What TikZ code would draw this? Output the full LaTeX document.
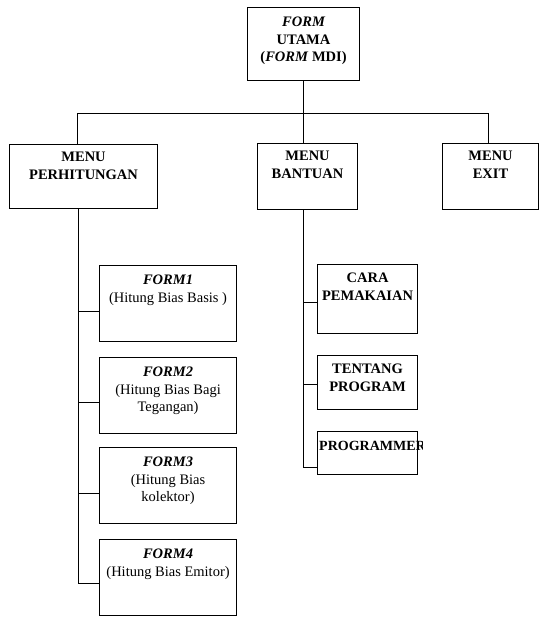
\documentclass[tikz,border=0pt]{standalone}
\usepackage{fontspec}
\setmainfont{Liberation Serif}
\begin{document}
\begin{tikzpicture}[x=1pt,y=-1pt,
  box/.style={draw,line width=1.1pt,anchor=north west,inner sep=0pt},
  lbl/.style={anchor=north,align=center,inner sep=0pt,font=\fontsize{14.5}{17.5}\selectfont},
  conn/.style={line width=0.9pt}]
\useasboundingbox (0,0) rectangle (539,619);
% top
\node[box,minimum width=112pt,minimum height=73pt,
  label={[lbl,yshift=-10pt]north:{\bfseries\itshape FORM\\\bfseries UTAMA\\\bfseries(\textit{FORM} MDI)}}] (top) at (247,7) {};
% menus
\node[box,minimum width=148pt,minimum height=64pt,
  label={[lbl,yshift=-8pt]north:{\bfseries MENU\\\bfseries PERHITUNGAN}}] (perh) at (9,144) {};
\node[box,minimum width=100pt,minimum height=66pt,
  label={[lbl,yshift=-8pt]north:{\bfseries MENU\\\bfseries BANTUAN}}] (bant) at (257,143) {};
\node[box,minimum width=96pt,minimum height=66pt,
  label={[lbl,yshift=-8pt]north:{\bfseries MENU\\\bfseries EXIT}}] (exit) at (442,143) {};
% forms
\node[box,minimum width=137pt,minimum height=76pt,
  label={[lbl,yshift=-10pt]north:{\bfseries\itshape FORM1\\(Hitung Bias Basis )}}] (f1) at (99,265) {};
\node[box,minimum width=137pt,minimum height=76pt,
  label={[lbl,yshift=-10pt]north:{\bfseries\itshape FORM2\\(Hitung Bias Bagi\\Tegangan)}}] (f2) at (99,357) {};
\node[box,minimum width=137pt,minimum height=76pt,
  label={[lbl,yshift=-10pt]north:{\bfseries\itshape FORM3\\(Hitung Bias\\kolektor)}}] (f3) at (99,447) {};
\node[box,minimum width=137pt,minimum height=76pt,
  label={[lbl,yshift=-10pt]north:{\bfseries\itshape FORM4\\(Hitung Bias Emitor)}}] (f4) at (99,539) {};
% bantuan children
\node[box,minimum width=100pt,minimum height=69pt,
  label={[lbl,yshift=-9pt]north:{\bfseries CARA\\\bfseries PEMAKAIAN}}] (cara) at (317,264) {};
\node[box,minimum width=100pt,minimum height=54pt,
  label={[lbl,yshift=-9pt]north:{\bfseries TENTANG\\\bfseries PROGRAM}}] (tent) at (317,355) {};
\node[box,minimum width=100pt,minimum height=43pt] (prog) at (317,431) {};
\begin{scope}
\clip ([xshift=-1pt]prog.south west) rectangle ([xshift=4pt]prog.north east);
\node[lbl,anchor=north west,xshift=2pt,yshift=-10pt,font=\fontsize{14}{17}\selectfont] (progtxt) at (prog.north west) {\bfseries PROGRAMMER};
\end{scope}
% connectors top
\coordinate (jl) at (77,113);
\coordinate (jr) at (488,113);
\draw[conn] (top.south) -- (top.south |- bant.north);
\draw[conn] (perh.north -| jl) -- (jl) -- (jr) -- (exit.north -| jr);
% left tree
\coordinate (c1) at (78,311);
\coordinate (c2) at (78,402);
\coordinate (c3) at (78,493);
\coordinate (c4) at (78,583);
\draw[conn] (perh.south -| c1) -- (c4) -- (f4.west |- c4);
\draw[conn] (c1) -- (f1.west |- c1);
\draw[conn] (c2) -- (f2.west |- c2);
\draw[conn] (c3) -- (f3.west |- c3);
% right tree
\coordinate (d1) at (303,302);
\coordinate (d2) at (303,384);
\coordinate (d3) at (303,467);
\draw[conn] (bant.south -| d1) -- (d3) -- (prog.west |- d3);
\draw[conn] (d1) -- (cara.west |- d1);
\draw[conn] (d2) -- (tent.west |- d2);
\end{tikzpicture}
\end{document}
